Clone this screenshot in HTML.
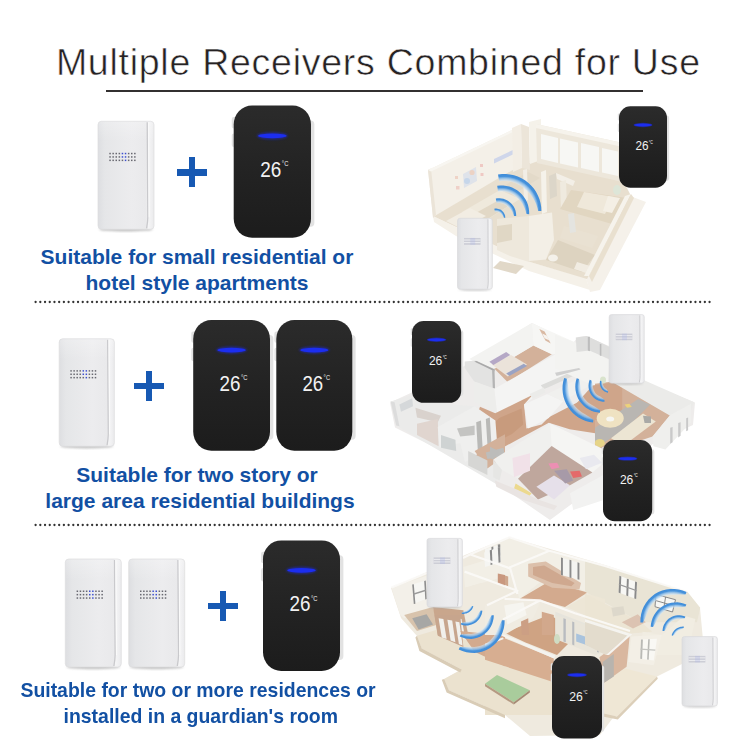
<!DOCTYPE html>
<html lang="en">
<head>
<meta charset="utf-8">
<title>Multiple Receivers Combined for Use</title>
<style>
html,body{margin:0;padding:0;background:#fff;}
body{width:750px;height:750px;position:relative;overflow:hidden;font-family:"Liberation Sans",Arial,sans-serif;}
.abs{position:absolute;}
#title{left:55.9px;top:39.5px;font-size:37.5px;line-height:44px;color:#262223;white-space:nowrap;letter-spacing:0.74px;-webkit-text-stroke:0.55px #fff;}
#uline{left:106px;top:90.4px;width:537px;height:1.6px;background:#333030;}
.dots{left:34px;width:678px;height:3px;background-image:radial-gradient(circle at 1.2px 1.5px,#3c3c3c 0.9px,rgba(60,60,60,0.35) 1.3px,rgba(60,60,60,0) 1.7px);background-size:3.95px 3px;background-repeat:repeat-x;}
.cap{color:#1250a3;font-weight:bold;font-size:21px;line-height:26px;white-space:nowrap;text-align:center;}
.plus{width:30px;height:30px;}
.plus:before,.plus:after{content:"";position:absolute;background:#1759b3;}
.plus:before{left:0;top:11.85px;width:30px;height:6.3px;}
.plus:after{left:11.85px;top:0;width:6.3px;height:30px;}
svg{position:absolute;left:0;top:0;}
</style>
</head>
<body>
<svg id="art" width="750" height="750" viewBox="0 0 750 750">
<defs>
  <linearGradient id="gWhite" x1="0" y1="0" x2="1" y2="0">
    <stop offset="0" stop-color="#dddee1"/><stop offset="0.12" stop-color="#e5e6e8"/><stop offset="0.6" stop-color="#ececee"/><stop offset="0.86" stop-color="#e9e9eb"/><stop offset="0.9" stop-color="#f5f5f6"/><stop offset="1" stop-color="#eaeaec"/>
  </linearGradient>
  <linearGradient id="gTop" x1="0" y1="0" x2="0" y2="1"><stop offset="0" stop-color="#fff" stop-opacity="0.25"/><stop offset="1" stop-color="#fff" stop-opacity="0"/></linearGradient>
  <linearGradient id="gBlack" x1="0" y1="0" x2="0" y2="1">
    <stop offset="0" stop-color="#2b2b2b"/><stop offset="0.5" stop-color="#232323"/><stop offset="1" stop-color="#1c1c1c"/>
  </linearGradient>
  <filter id="b05" x="-10%" y="-10%" width="120%" height="120%"><feGaussianBlur stdDeviation="0.45"/></filter>
  <filter id="b1" x="-20%" y="-20%" width="140%" height="140%"><feGaussianBlur stdDeviation="1"/></filter>
  <filter id="b2" x="-20%" y="-20%" width="140%" height="140%"><feGaussianBlur stdDeviation="2"/></filter>
  <filter id="glow" x="-50%" y="-200%" width="200%" height="500%"><feGaussianBlur stdDeviation="1.2"/></filter>

  <radialGradient id="ag1_0" gradientUnits="userSpaceOnUse" cx="496.1" cy="217.8" r="9.2"><stop offset="0.6522" stop-color="#d5e8f7" stop-opacity="0.55"/><stop offset="0.7913" stop-color="#86baea" stop-opacity="0.88"/><stop offset="0.8783" stop-color="#4692db" stop-opacity="1.00"/><stop offset="1.0000" stop-color="#3f8cd9" stop-opacity="1.00"/></radialGradient><radialGradient id="ag1_1" gradientUnits="userSpaceOnUse" cx="498.8" cy="215.6" r="17.4"><stop offset="0.7241" stop-color="#d5e8f7" stop-opacity="0.55"/><stop offset="0.8345" stop-color="#86baea" stop-opacity="0.88"/><stop offset="0.9034" stop-color="#4692db" stop-opacity="1.00"/><stop offset="1.0000" stop-color="#3f8cd9" stop-opacity="1.00"/></radialGradient><radialGradient id="ag1_2" gradientUnits="userSpaceOnUse" cx="501.5" cy="213.2" r="27.7"><stop offset="0.7834" stop-color="#d5e8f7" stop-opacity="0.55"/><stop offset="0.8700" stop-color="#86baea" stop-opacity="0.88"/><stop offset="0.9242" stop-color="#4692db" stop-opacity="1.00"/><stop offset="1.0000" stop-color="#3f8cd9" stop-opacity="1.00"/></radialGradient><radialGradient id="ag1_3" gradientUnits="userSpaceOnUse" cx="504.4" cy="211.0" r="37.0"><stop offset="0.8108" stop-color="#d5e8f7" stop-opacity="0.55"/><stop offset="0.8865" stop-color="#86baea" stop-opacity="0.88"/><stop offset="0.9338" stop-color="#4692db" stop-opacity="1.00"/><stop offset="1.0000" stop-color="#3f8cd9" stop-opacity="1.00"/></radialGradient>
<radialGradient id="ag2_0" gradientUnits="userSpaceOnUse" cx="609.8" cy="382.9" r="10.0"><stop offset="0.7000" stop-color="#d5e8f7" stop-opacity="0.55"/><stop offset="0.8200" stop-color="#86baea" stop-opacity="0.88"/><stop offset="0.8950" stop-color="#4692db" stop-opacity="1.00"/><stop offset="1.0000" stop-color="#3f8cd9" stop-opacity="1.00"/></radialGradient><radialGradient id="ag2_1" gradientUnits="userSpaceOnUse" cx="604.5" cy="385.8" r="16.0"><stop offset="0.7250" stop-color="#d5e8f7" stop-opacity="0.55"/><stop offset="0.8350" stop-color="#86baea" stop-opacity="0.88"/><stop offset="0.9038" stop-color="#4692db" stop-opacity="1.00"/><stop offset="1.0000" stop-color="#3f8cd9" stop-opacity="1.00"/></radialGradient><radialGradient id="ag2_2" gradientUnits="userSpaceOnUse" cx="601.3" cy="386.7" r="26.0"><stop offset="0.7923" stop-color="#d5e8f7" stop-opacity="0.55"/><stop offset="0.8754" stop-color="#86baea" stop-opacity="0.88"/><stop offset="0.9273" stop-color="#4692db" stop-opacity="1.00"/><stop offset="1.0000" stop-color="#3f8cd9" stop-opacity="1.00"/></radialGradient><radialGradient id="ag2_3" gradientUnits="userSpaceOnUse" cx="596.7" cy="388.5" r="34.2"><stop offset="0.8187" stop-color="#d5e8f7" stop-opacity="0.55"/><stop offset="0.8912" stop-color="#86baea" stop-opacity="0.88"/><stop offset="0.9365" stop-color="#4692db" stop-opacity="1.00"/><stop offset="1.0000" stop-color="#3f8cd9" stop-opacity="1.00"/></radialGradient>
<radialGradient id="ag3_0" gradientUnits="userSpaceOnUse" cx="463.0" cy="603.0" r="10.9"><stop offset="0.7615" stop-color="#d5e8f7" stop-opacity="0.55"/><stop offset="0.8569" stop-color="#86baea" stop-opacity="0.88"/><stop offset="0.9165" stop-color="#4692db" stop-opacity="1.00"/><stop offset="1.0000" stop-color="#3f8cd9" stop-opacity="1.00"/></radialGradient><radialGradient id="ag3_1" gradientUnits="userSpaceOnUse" cx="466.1" cy="609.1" r="16.4"><stop offset="0.7683" stop-color="#d5e8f7" stop-opacity="0.55"/><stop offset="0.8610" stop-color="#86baea" stop-opacity="0.88"/><stop offset="0.9189" stop-color="#4692db" stop-opacity="1.00"/><stop offset="1.0000" stop-color="#3f8cd9" stop-opacity="1.00"/></radialGradient><radialGradient id="ag3_2" gradientUnits="userSpaceOnUse" cx="470.1" cy="615.2" r="23.7"><stop offset="0.7890" stop-color="#d5e8f7" stop-opacity="0.55"/><stop offset="0.8734" stop-color="#86baea" stop-opacity="0.88"/><stop offset="0.9262" stop-color="#4692db" stop-opacity="1.00"/><stop offset="1.0000" stop-color="#3f8cd9" stop-opacity="1.00"/></radialGradient><radialGradient id="ag3_3" gradientUnits="userSpaceOnUse" cx="473.0" cy="621.3" r="31.6"><stop offset="0.8101" stop-color="#d5e8f7" stop-opacity="0.55"/><stop offset="0.8861" stop-color="#86baea" stop-opacity="0.88"/><stop offset="0.9335" stop-color="#4692db" stop-opacity="1.00"/><stop offset="1.0000" stop-color="#3f8cd9" stop-opacity="1.00"/></radialGradient>
<radialGradient id="ag4_0" gradientUnits="userSpaceOnUse" cx="683.0" cy="638.4" r="11.8"><stop offset="0.7627" stop-color="#d5e8f7" stop-opacity="0.55"/><stop offset="0.8576" stop-color="#86baea" stop-opacity="0.88"/><stop offset="0.9169" stop-color="#4692db" stop-opacity="1.00"/><stop offset="1.0000" stop-color="#3f8cd9" stop-opacity="1.00"/></radialGradient><radialGradient id="ag4_1" gradientUnits="userSpaceOnUse" cx="678.8" cy="631.5" r="16.3"><stop offset="0.7546" stop-color="#d5e8f7" stop-opacity="0.55"/><stop offset="0.8528" stop-color="#86baea" stop-opacity="0.88"/><stop offset="0.9141" stop-color="#4692db" stop-opacity="1.00"/><stop offset="1.0000" stop-color="#3f8cd9" stop-opacity="1.00"/></radialGradient><radialGradient id="ag4_2" gradientUnits="userSpaceOnUse" cx="676.1" cy="627.7" r="25.4"><stop offset="0.7953" stop-color="#d5e8f7" stop-opacity="0.55"/><stop offset="0.8772" stop-color="#86baea" stop-opacity="0.88"/><stop offset="0.9283" stop-color="#4692db" stop-opacity="1.00"/><stop offset="1.0000" stop-color="#3f8cd9" stop-opacity="1.00"/></radialGradient><radialGradient id="ag4_3" gradientUnits="userSpaceOnUse" cx="672.5" cy="620.9" r="32.1"><stop offset="0.8131" stop-color="#d5e8f7" stop-opacity="0.55"/><stop offset="0.8879" stop-color="#86baea" stop-opacity="0.88"/><stop offset="0.9346" stop-color="#4692db" stop-opacity="1.00"/><stop offset="1.0000" stop-color="#3f8cd9" stop-opacity="1.00"/></radialGradient>

  <!-- black receiver: 80 x 132 -->
  <g id="rx">
    <rect x="-2" y="11.500" width="5" height="11.500" rx="2" fill="#e2e2e2"/>
    <rect x="-2" y="28" width="5" height="13.500" rx="2" fill="#e2e2e2"/>
    <rect x="75" y="15" width="8.500" height="106" rx="4" fill="#e2e2e2" filter="url(#b05)"/>
    <rect x="0" y="0" width="80" height="132" rx="19" ry="19" fill="url(#gBlack)"/>
    <ellipse cx="40" cy="30.300" rx="16" ry="3.600" fill="#1a2cff" opacity="0.45" filter="url(#glow)"/>
    <ellipse cx="40" cy="30.300" rx="14.800" ry="2.400" fill="#1c2ef0"/>
    <text x="27.500" y="71.500" font-family="Liberation Sans, sans-serif" font-size="21.500" fill="#f2f2f2" textLength="21.800" lengthAdjust="spacingAndGlyphs">26</text>
    <text x="49.800" y="60.800" font-family="Liberation Sans, sans-serif" font-size="8" fill="#f2f2f2" textLength="6.800" lengthAdjust="spacingAndGlyphs">°C</text>
  </g>

  <!-- small scene transmitter: 36 x 69 -->
  <g id="txs">
    <ellipse cx="17.700" cy="68.600" rx="16.500" ry="1.500" fill="#aaa" opacity="0.6" filter="url(#b1)"/>
    <rect x="0" y="0" width="35.400" height="68.500" rx="2.400" ry="2.400" fill="url(#gWhite)" stroke="#dadadc" stroke-width="0.700"/>
    <path d="M30.900 0.800 L31.200 61 Q31.200 64 30.500 67.800" stroke="#cdcdd0" stroke-width="1" fill="none"/>
    <rect x="6.600" y="19" width="16.800" height="6.600" fill="#cdced6"/>
    <path d="M6.600 21 H23.400 M6.600 23.500 H23.400" stroke="#f1f1f4" stroke-width="0.900"/>
    <rect x="13" y="19" width="5" height="6.600" fill="#a9b4ea" opacity="0.280"/>
  </g>
  <!-- white transmitter: 56 x 108 -->
  <g id="tx">
    <ellipse cx="28" cy="108" rx="27" ry="2.2" fill="#b0b0b0" opacity="0.75" filter="url(#b1)"/>
    <rect x="0" y="0" width="56" height="108" rx="3.5" ry="3.5" fill="url(#gWhite)" stroke="#dcdcde" stroke-width="0.7"/>
    <rect x="0.5" y="0.5" width="55" height="20" rx="3" fill="url(#gTop)"/>
    <path d="M49.2 1 L49.8 96 Q49.8 100 48.6 107" stroke="#c9c9cc" stroke-width="1.3" fill="none"/>
    <path d="M50.6 1 L51.2 96" stroke="#fbfbfb" stroke-width="1" fill="none"/>
    <g fill="#686870"><rect x="11.3" y="31.5" width="1.5" height="1.5"/><rect x="14.4" y="31.5" width="1.5" height="1.5"/><rect x="17.5" y="31.5" width="1.5" height="1.5"/><rect x="20.6" y="31.5" width="1.5" height="1.5"/><rect x="23.7" y="31.5" width="1.5" height="1.5" fill="#3d4fd0"/><rect x="26.8" y="31.5" width="1.5" height="1.5" fill="#3d4fd0"/><rect x="29.9" y="31.5" width="1.5" height="1.5"/><rect x="33.0" y="31.5" width="1.5" height="1.5"/><rect x="36.1" y="31.5" width="1.5" height="1.5"/><rect x="11.3" y="34.9" width="1.5" height="1.5"/><rect x="14.4" y="34.9" width="1.5" height="1.5"/><rect x="17.5" y="34.9" width="1.5" height="1.5"/><rect x="20.6" y="34.9" width="1.5" height="1.5"/><rect x="23.7" y="34.9" width="1.5" height="1.5" fill="#3d4fd0"/><rect x="26.8" y="34.9" width="1.5" height="1.5" fill="#3d4fd0"/><rect x="29.9" y="34.9" width="1.5" height="1.5"/><rect x="33.0" y="34.9" width="1.5" height="1.5"/><rect x="36.1" y="34.9" width="1.5" height="1.5"/><rect x="11.3" y="38.3" width="1.5" height="1.5"/><rect x="14.4" y="38.3" width="1.5" height="1.5"/><rect x="17.5" y="38.3" width="1.5" height="1.5"/><rect x="20.6" y="38.3" width="1.5" height="1.5"/><rect x="23.7" y="38.3" width="1.5" height="1.5"/><rect x="26.8" y="38.3" width="1.5" height="1.5" fill="#3d4fd0"/><rect x="29.9" y="38.3" width="1.5" height="1.5"/><rect x="33.0" y="38.3" width="1.5" height="1.5"/><rect x="36.1" y="38.3" width="1.5" height="1.5"/></g>
  </g>
</defs>

<!-- house 1: faded isometric apartment -->
<g id="house1" filter="url(#b05)">
  <!-- outer slab faces -->
  <polygon points="433,216 458,228 530,262 586,278 590,290 529,271 456,236 434,222" fill="#f5f1e9"/>
  <polygon points="630,196 646,202 600,290 590,292 586,278" fill="#f5f1ea"/>
  <!-- floor -->
  <polygon points="433,216 516,167 540,160 623,180 631,196 587,279 530,262" fill="#e8dfcf"/>
  <!-- left wall inner face -->
  <polygon points="428,170 512,130 516,168 433,217" fill="#f4f0e8"/>
  <polygon points="428,170 431,168.500 436,215 433,218" fill="#ebe4d8"/>
  <polygon points="428,170 512,130 514,131.500 431,171.500" fill="#f8f6f1"/>
  <!-- pictures on left wall -->
  <polygon points="463,174 476,167 477,181 464,188" fill="#dfe3ea"/>
  <circle cx="467" cy="181" r="3" fill="#c6d6ea"/><circle cx="472" cy="172.500" r="2.600" fill="#ecd2c4"/>
  <rect x="455" y="176" width="3" height="3" fill="#efd3c6"/><rect x="456" y="186" width="3.500" height="3.500" fill="#efd0c8"/><rect x="480" y="164" width="3" height="3" fill="#efc9c4"/><rect x="480.500" y="173" width="3" height="3" fill="#efc9c4"/>
  <polygon points="494,159 516,148.500 516,153 494,163.500" fill="#cfd6ea"/>
  <!-- corner columns -->
  <polygon points="512,128 521,124 522,168 513,172" fill="#f3eee5"/>
  <polygon points="521,124 529,127 530,170 522,168" fill="#ece5d9"/>
  <polygon points="529,122 541,119 541,160 530,164" fill="#f5f2ea"/>
  <!-- window wall -->
  <polygon points="536,124 623,143 623,182 537,163" fill="#ede7db"/>
  <polygon points="536,124 623,143 623,147 536,128" fill="#f6f3ec"/>
  <polygon points="541,134 558,138 558,163 541,159" fill="#f7f7f4"/>
  <polygon points="560,138.500 578,142.500 578,167.500 560,163.500" fill="#f7f7f4"/>
  <polygon points="581,143 599,147 599,172 581,168" fill="#f7f7f4"/>
  <polygon points="602,148 618,151.500 618,176 602,172.500" fill="#f7f7f4"/>
  <!-- living area furniture near wall -->
  <polygon points="462,212 500,190 520,199 482,223" fill="#efe9dc"/>
  <polygon points="474,214 499,200 510,205 486,220" fill="#e2d8c6"/>
  <polygon points="446,221 470,208 486,216 462,229" fill="#f2ede3"/>
  <polygon points="500,188 528,172 540,178 512,195" fill="#e3dac9"/>
  <!-- partition walls around kitchen -->
  <polygon points="523,170 527,169 528,200 524,202" fill="#f2eee6"/>
  <polygon points="541,172 546,170 547,212 542,214" fill="#f5f2ea"/>
  <polygon points="549,176 556,173 557,196 550,199" fill="#dcd6c9"/>
  <polygon points="556,173 575,181 573,186 557,179" fill="#f3efe7"/>
  <polygon points="560,182 566,180 567,207 561,209" fill="#efeadf"/>
  <!-- bedroom floor -->
  <polygon points="571,190 627,198 612,224 560,209" fill="#e1d6c1"/>
  <polygon points="584,192 614,197 605,214 577,207" fill="#efe8da"/>
  <polygon points="608,196 620,198 612,213 603,211" fill="#f4efe5"/>
  <!-- center partition big light wall -->
  <polygon points="529,216 552,212.500 554,240 546,259.500 529,261" fill="#f3efe6"/>
  <polygon points="497,219 529,216 529,262 510,256 497,250" fill="#eee8dc"/>
  <polygon points="497,226 512,224 512,240 497,243" fill="#e0d7c5"/>
  <!-- doormat -->
  <polygon points="500,261 524,266 516,274 493,268" fill="#e1d8c8"/>
  <!-- bathroom / study bottom right -->
  <polygon points="558,240 595,255 582,272 546,260" fill="#ddd3c0"/>
  <polygon points="564,226 598,236 592,248 560,238" fill="#e9e1d2"/>
  <polygon points="568,214 574,213 576,232 570,233" fill="#e4e4e0"/>
  <ellipse cx="553" cy="258" rx="5" ry="3.500" fill="#f4f1ea"/>
  <polygon points="577,262 590,266 586,273 574,269" fill="#f1ece2"/>
  <!-- right low wall -->
  <polygon points="625,196 631,194 589,276 584,276" fill="#f6f3ec"/>
  <polygon points="631,194 634,198 592,282 589,276" fill="#e9e0cf"/>
  <!-- plant -->
  <ellipse cx="617" cy="190" rx="4" ry="5" fill="#dde6d8"/>
</g>

<!-- house 2 -->
<g id="house2" filter="url(#b05)">
<polygon points="390.0,402.5 450.0,375.0 532.0,323.0 573.0,343.0 578.0,337.0 586.0,336.0 609.0,346.0 645.0,382.5 695.0,402.5 693.0,425.0 655.0,442.5 550.0,520.0 470.0,465.0 395.0,427.5" fill="#eeeceb"/>
<polygon points="390.6,401.4 412.2,395.0 452.2,404.6 474.6,406.2 497.0,423.8 497.0,443.0 497.0,484.6 396.2,425.4" fill="#ebebea"/>
<polygon points="533.4,345.4 551.8,354.2 507.8,382.2 494.2,368.6" fill="#d3b19a"/>
<polygon points="469.4,359.0 531.8,323.0 533.4,345.4 495.0,368.6 474.2,361.4" fill="#f3f3f1"/>
<polygon points="531.8,323.0 575.0,342.2 575.0,355.0 551.8,354.2 533.4,345.4" fill="#f6f6f4"/>
<polygon points="539.3,329.1 544.6,331.5 550.7,343.5 545.4,340.6" fill="#d9b9a3"/>
<polygon points="542.2,333.4 547.0,335.8 549.4,340.6 544.6,338.2" fill="#f6f3ef"/>
<polygon points="491.8,364.6 511.0,355.0 527.0,364.6 507.8,376.6" fill="#ebe3da"/>
<polygon points="506.2,373.4 523.8,363.8 527.0,365.9 509.4,376.1" fill="#9aa3c4"/>
<polygon points="489.4,361.7 506.2,352.1 510.2,355.0 493.4,364.9" fill="#b5a8c6"/>
<polygon points="464.6,361.4 475.8,360.6 494.2,369.4 494.2,388.6 474.2,381.4 464.6,367.8" fill="#e3e3e2"/>
<polygon points="474.2,361.4 476.6,361.1 495.0,369.4 494.2,371.3" fill="#a9a9a9"/>
<polygon points="492.1,370.2 494.5,369.4 495.0,388.6 492.8,387.8" fill="#b4b4b4"/>
<polygon points="494.2,388.9 554.2,355.0 575.0,344.6 575.0,367.8 523.8,404.6 496.9,412.9" fill="#f4f4f3"/>
<polygon points="474.2,381.4 494.2,388.9 496.9,412.9 474.2,402.2" fill="#ededeb"/>
<polygon points="495.2,413.2 532.8,394.8 524.0,404.4 526.4,428.4 541.6,424.4 548.8,417.2 600.0,390.8 600.0,434.0 569.6,429.2 548.8,422.8 516.0,440.4 492.8,453.2 480.0,457.2 470.4,459.6 470.4,434.0 480.0,406.8" fill="#cfa58a"/>
<polygon points="499.2,418.0 521.6,408.4 523.2,424.4 512.0,434.0 489.6,445.2 483.2,434.0" fill="#c89b7d"/>
<polygon points="524.0,404.4 547.2,394.0 563.2,401.2 548.8,418.0 528.0,428.4" fill="#f4f4f3"/>
<polygon points="547.2,394.0 600.0,368.4 600.0,379.6 563.2,401.2" fill="#f0f0ee"/>
<polygon points="540.8,385.2 576.0,370.0 579.2,373.2 544.0,389.2" fill="#dcdcda"/>
<polygon points="529.6,394.0 544.0,387.6 545.6,392.4 532.8,398.8" fill="#ebebe9"/>
<polygon points="555.0,334.4 579.0,344.0 609.4,360.0 607.8,384.0 593.4,385.6 564.6,372.8 555.0,368.0" fill="#f3f3f1"/>
<polygon points="575.8,337.6 587.0,336.0 610.2,347.2 609.4,359.2 589.4,350.4 576.6,352.0" fill="#dededd"/>
<polygon points="587.8,336.8 589.9,336.8 589.9,351.2 587.8,350.4" fill="#bdbdbd"/>
<polygon points="599.8,344.0 601.4,344.0 601.4,356.0 599.8,355.5" fill="#bdbdbd"/>
<polygon points="555.0,372.8 579.0,368.0 580.6,369.6 556.6,376.0" fill="#cfcfcf"/>
<polygon points="595.0,383.8 612.6,381.4 670.2,415.0 652.6,436.6 611.0,450.2 595.0,450.2" fill="#d3b19a"/>
<polygon points="592.6,385.6 607.8,383.2 622.2,384.0 622.2,420.0 579.0,420.0 571.0,409.6" fill="#cfa58a"/>
<polygon points="595.0,427.8 638.2,399.0 650.2,404.6 627.0,427.8 604.6,442.2 595.0,442.2" fill="#b9b6b2"/>
<polygon points="624.6,404.6 629.4,403.8 631.8,407.0 627.0,407.8" fill="#ecd27a"/>
<ellipse cx="610.2" cy="418.2" rx="13.5" ry="9.5" fill="#efe2c2"/>
<ellipse cx="610.2" cy="419.0" rx="4" ry="2.5" fill="#f6f6f2"/>
<polygon points="611.0,438.2 643.0,413.4 655.8,421.4 623.8,445.4" fill="#ece5d3"/>
<polygon points="643.0,415.8 651.0,416.6 651.0,423.0 644.6,423.0" fill="#a9a9a6"/>
<ellipse cx="599.8" cy="443.0" rx="5" ry="4" fill="#e6d488"/>
<polygon points="643.0,379.8 694.2,402.2 691.0,409.4 670.2,415.8 612.6,382.2" fill="#ebebe9"/>
<polygon points="652.6,436.6 670.2,415.0 691.0,403.8 691.0,422.2 665.4,449.4 653.4,446.2" fill="#efefed"/>
<polygon points="670.2,427.8 672.6,427.0 672.6,442.2 670.2,443.8" fill="#c9c9c9"/>
<polygon points="678.2,423.0 680.6,422.2 680.6,435.8 678.2,437.4" fill="#c9c9c9"/>
<polygon points="686.2,418.2 688.1,417.4 688.1,430.2 686.2,431.3" fill="#c9c9c9"/>
<ellipse cx="603.0" cy="380.0" rx="3" ry="3.5" fill="#d9e3cc"/>
<polygon points="390.6,401.4 394.6,402.2 399.4,426.2 396.2,425.4" fill="#dcdcdc"/>
<polygon points="399.4,404.6 412.2,398.2 413.0,406.2 401.0,411.8" fill="#d5d8da"/>
<polygon points="415.4,407.8 441.0,415.8 437.8,422.2 417.0,417.4" fill="#d9d2cd"/>
<polygon points="417.0,423.8 437.8,419.0 438.6,446.2 417.0,435.0" fill="#e0d5cf"/>
<polygon points="437.8,427.0 460.2,414.2 474.6,406.2 495.4,420.6 497.0,441.4 465.0,462.2 460.2,443.0 439.4,447.8" fill="#efefee"/>
<polygon points="457.0,428.6 474.6,425.4 474.6,435.0 460.2,436.6" fill="#c4c4c2"/>
<polygon points="476.2,422.2 481.0,420.6 482.6,447.8 477.8,450.2" fill="#b9b9b7"/>
<polygon points="485.8,419.0 489.8,417.4 491.4,443.0 487.4,444.6" fill="#b9b9b7"/>
<polygon points="441.0,435.0 455.4,439.8 456.2,451.0 441.0,447.8" fill="#cfd3d3"/>
<polygon points="474.6,451.0 505.0,434.2 505.0,455.8 487.4,468.6" fill="#d3b19a"/>
<polygon points="468.2,451.0 487.4,460.6 487.4,475.0 468.2,465.4" fill="#d6d6d4"/>
<polygon points="485.8,452.6 503.4,447.8 505.0,455.8 487.4,459.0" fill="#bdbdbb"/>
<polygon points="493.2,459.6 550.0,423.6 551.6,446.0 518.0,478.8 502.0,470.0" fill="#f0f0ee"/>
<polygon points="550.0,423.6 605.2,450.0 602.0,464.4 592.4,472.4 551.6,446.0" fill="#f5f5f3"/>
<polygon points="551.6,446.0 592.4,472.4 570.0,485.2 538.0,499.6 518.0,478.8" fill="#bfa79d"/>
<polygon points="512.4,458.0 530.0,453.2 530.0,470.8 514.0,477.2" fill="#f1e1e8"/>
<polygon points="536.4,486.8 554.0,475.6 570.0,485.2 554.0,499.6" fill="#e6e0ea"/>
<polygon points="548.4,463.6 557.2,462.8 559.6,467.6 551.6,469.2" fill="#ec8fb3"/>
<polygon points="570.0,471.6 579.6,470.8 582.0,476.4 573.2,478.0" fill="#e46a6a"/>
<polygon points="554.0,470.8 566.8,469.2 573.2,480.4 565.2,483.6" fill="#a79aa8"/>
<polygon points="579.6,458.0 594.0,454.8 602.0,462.8 586.0,469.2" fill="#e9e9ef"/>
<polygon points="515.6,483.6 531.6,493.2 528.4,497.2 514.0,488.4" fill="#ecd98e"/>
<polygon points="493.2,459.6 502.0,470.0 499.6,480.4 493.2,477.2" fill="#e6e6e4"/>
<polygon points="494.8,480.4 518.0,490.0 538.0,499.6 557.2,506.0 554.0,510.0 522.0,499.6 496.4,486.8" fill="#e9e4e2"/>
<polygon points="570.0,493.2 605.2,474.0 605.2,499.6 573.2,510.0" fill="#f2f2f1"/>
<polygon points="490.0,446.8 499.6,451.6 493.2,459.6 490.0,458.0" fill="#bcbcba"/>
</g>

<!-- house 3 -->
<g id="house3" filter="url(#b05)">
<polygon points="391,588 465,555 509,537 605,565 687,592 700,608 703,640 690,660 650,680 634,690 600,735 530,736 505,715 449,690 444,679 462,669 422,649 417,636 401,618" fill="#efeadf"/>
<polygon points="417.0,635.8 437.8,629.4 505.0,655.0 505.0,715.0 449.0,690.2 444.2,679.0 461.8,669.4 421.8,648.6" fill="#ebe2cf"/>
<polygon points="485.0,655.0 553.8,682.2 553.8,715.0 485.0,715.0" fill="#ebe2cf"/>
<polygon points="417.0,635.8 421.8,648.6 461.8,669.4 460.2,672.6 419.4,651.0 415.4,637.4" fill="#d9ccb6"/>
<polygon points="444.2,679.0 449.0,690.2 505.0,715.0 505.0,718.2 446.6,692.6 441.8,679.8" fill="#d9ccb6"/>
<polygon points="602.6,682.8 625.0,668.4 657.0,676.4 617.0,716.4 602.6,713.2" fill="#efe7d5"/>
<polygon points="602.6,713.2 617.0,716.4 657.0,676.4 657.8,678.8 617.8,719.6 602.6,716.4" fill="#dccfb9"/>
<polygon points="485.0,683.8 497.0,675.0 529.8,690.2 513.8,702.2" fill="#a9cc9c"/>
<polygon points="485.0,683.8 513.8,702.2 513.8,704.6 485.0,686.2" fill="#b59a82"/>
<polygon points="513.8,702.2 529.8,690.2 529.8,692.6 513.8,704.6" fill="#a58a74"/>
<polygon points="391.4,587.8 426.6,575.8 433.0,607.0 404.2,618.2 400.2,615.0" fill="#f3f0e9"/>
<polygon points="412.2,584.6 425.8,580.6 425.8,599.0 413.8,603.8" fill="#f6f6f3"/>
<polygon points="412.2,584.6 413.8,584.3 415.4,603.8 413.8,604.1" fill="#8e8e8e"/>
<polygon points="424.2,581.1 425.8,580.6 426.9,599.0 425.3,599.5" fill="#8e8e8e"/>
<polygon points="413.0,593.4 425.8,589.4 426.0,591.0 413.2,595.0" fill="#9a9a9a"/>
<polygon points="404.2,615.0 433.0,607.0 437.8,624.6 417.0,631.0" fill="#d8c3ac"/>
<polygon points="412.2,618.2 426.6,614.2 433.0,624.6 418.6,629.4" fill="#a7a7a5"/>
<polygon points="433.0,607.0 463.4,610.2 468.2,635.0 437.8,635.0" fill="#c9a68c"/>
<polygon points="437.8,615.0 442.6,615.8 445.8,635.0 441.0,635.0" fill="#f1f0ec"/>
<polygon points="447.4,616.6 452.2,617.4 455.4,635.0 450.6,635.0" fill="#f1f0ec"/>
<polygon points="457.0,618.2 461.5,619.0 464.7,635.0 460.2,635.0" fill="#f1f0ec"/>
<polygon points="434.6,615.0 460.2,615.0 463.4,647.0 437.8,635.8" fill="#c7a58d"/>
<polygon points="438.6,618.2 443.4,619.0 446.6,639.0 441.8,637.4" fill="#f1f0ec"/>
<polygon points="447.4,619.8 452.2,620.6 455.4,642.2 450.6,640.6" fill="#f1f0ec"/>
<polygon points="455.4,621.4 459.4,622.2 462.6,645.4 458.9,644.1" fill="#f1f0ec"/>
<polygon points="509.0,537.4 549.0,550.2 510.6,567.0 509.0,586.2 485.0,578.2 485.0,547.8" fill="#f2efe6"/>
<polygon points="485.0,549.4 499.4,544.6 500.2,563.0 485.0,566.2" fill="#f5f5f2"/>
<polygon points="491.4,547.0 493.3,546.5 493.8,564.6 492.0,565.1" fill="#8a8a8a"/>
<polygon points="497.8,544.6 500.2,544.3 500.7,563.2 498.8,563.8" fill="#8a8a8a"/>
<polygon points="498.6,573.4 508.2,576.6 508.2,586.2 498.6,583.0" fill="#cfa78d"/>
<polygon points="463.4,567.0 505.0,554.2 505.0,591.0 481.0,583.0 465.0,587.8" fill="#f2efe6"/>
<polygon points="484.2,552.6 500.2,547.0 501.0,562.2 485.0,567.0" fill="#f5f5f2"/>
<polygon points="489.8,550.2 491.9,549.7 492.5,564.6 490.6,565.1" fill="#8a8a8a"/>
<polygon points="497.8,547.5 499.9,547.0 500.5,562.2 498.6,562.7" fill="#8a8a8a"/>
<polygon points="465.0,587.8 505.0,576.6 505.0,624.6 487.4,631.0 465.0,610.2" fill="#efeadf"/>
<polygon points="497.8,573.4 505.0,575.0 505.0,586.2 497.8,583.0" fill="#c9987f"/>
<polygon points="549.0,550.2 605.0,567.0 605.0,595.8 587.4,592.6 549.0,575.0 519.4,599.0 510.6,567.0" fill="#f2efe6"/>
<polygon points="519.4,599.0 549.0,581.4 587.4,592.6 565.0,607.0 541.0,600.6 526.6,605.4" fill="#d3aa8e"/>
<polygon points="528.2,563.8 545.8,561.4 581.0,583.0 579.4,589.4 552.2,587.8 528.2,576.6" fill="#dcc0ab"/>
<polygon points="533.0,567.0 544.2,565.4 574.6,583.0 571.4,586.2 552.2,583.0 533.0,575.0" fill="#cfa88f"/>
<polygon points="561.0,557.4 579.4,563.0 579.4,579.8 561.0,575.0" fill="#f4f4f1"/>
<polygon points="561.0,557.4 562.9,557.9 562.9,575.5 561.0,575.0" fill="#8c8c8c"/>
<polygon points="569.5,559.8 571.4,560.3 571.4,577.9 569.5,577.4" fill="#8c8c8c"/>
<polygon points="577.5,562.2 579.4,563.0 579.4,579.8 577.5,579.3" fill="#8c8c8c"/>
<polygon points="585.0,560.6 687.4,591.8 700.2,607.8 697.0,622.2 641.0,622.2 585.0,591.8" fill="#e9e4d5"/>
<polygon points="566.6,607.0 589.0,594.2 605.0,599.0 605.0,618.2 584.2,615.0" fill="#ede6d6"/>
<polygon points="585.0,593.4 641.0,622.2 652.2,631.8 629.8,633.4 585.0,619.0" fill="#ece5d4"/>
<polygon points="619.4,575.8 637.0,582.2 636.2,599.0 618.6,592.6" fill="#f7f7f4"/>
<polygon points="619.4,575.8 621.3,576.4 620.5,593.4 618.6,592.6" fill="#8a8a8a"/>
<polygon points="626.9,578.7 628.8,579.3 628.2,596.3 626.3,595.6" fill="#8a8a8a"/>
<polygon points="635.1,581.6 637.0,582.2 636.2,599.0 634.3,598.4" fill="#8a8a8a"/>
<polygon points="618.9,583.8 636.5,589.9 636.5,591.2 618.9,585.1" fill="#9a9a9a"/>
<polygon points="656,594.5 675.5,599.7 672.5,612 655,606.7" fill="#f7f7f4"/>
<path d="M656,594.5 L675.5,599.7 L672.5,612 L655,606.7 Z M665.6,597 L663.6,609.3 M655.5,600.5 L674,605.8" stroke="#8a8a8a" stroke-width="1" fill="none"/>
<polygon points="621.8,622.2 637.8,614.2 645.8,622.2 633.0,628.6" fill="#dcc3b2"/>
<polygon points="611.4,607.8 623.4,606.2 625.0,614.2 613.0,616.6" fill="#ddd8cb"/>
<polygon points="642.6,631.8 661.8,635.0 684.2,615.8 695.4,619.0 687.4,655.0 641.0,655.0" fill="#f1ede2"/>
<polygon points="631.4,636.4 661.8,634.8 653.8,665.2 628.2,662.0" fill="#f3efe6"/>
<polygon points="641.0,639.6 657.0,638.8 653.8,660.4 640.2,658.8" fill="#f9f8f4"/>
<polygon points="641.0,639.6 642.9,639.6 642.1,659.1 640.2,658.8" fill="#b9b9b5"/>
<polygon points="648.2,639.3 649.8,639.3 648.7,659.8 647.1,659.6" fill="#b9b9b5"/>
<polygon points="640.5,648.4 655.4,649.5 655.2,650.8 640.4,649.7" fill="#c4c4c0"/>
<polygon points="460.2,631.0 505.0,635.8 505.0,666.2 474.6,651.8" fill="#d3aa8e"/>
<polygon points="504.2,632.6 549.0,615.0 581.0,631.0 557.0,655.0 525.0,642.2" fill="#cfa383"/>
<polygon points="485.0,605.4 505.8,599.0 541.0,600.6 533.0,618.2 504.2,635.0 485.0,635.0" fill="#f0ece2"/>
<polygon points="504.2,605.4 523.4,602.2 526.6,615.0 507.4,624.6" fill="#f6f5f0"/>
<polygon points="541.8,611.8 553.8,615.0 553.8,635.0 541.8,635.0" fill="#d2a88c"/>
<polygon points="521.0,621.4 528.2,618.2 529.0,635.0 521.8,635.0" fill="#cc9f84"/>
<polygon points="555.4,611.8 605.0,631.0 605.0,635.0 555.4,635.0" fill="#e6e4dc"/>
<polygon points="555.4,615.0 605.0,631.0 605.0,651.8 595.4,655.0 555.4,639.0" fill="#e9e5da"/>
<polygon points="563.4,618.2 565.8,619.0 565.8,642.2 563.4,641.4" fill="#b9bcc0"/>
<polygon points="572.2,621.4 574.3,622.2 574.3,645.4 572.2,644.6" fill="#b9bcc0"/>
<polygon points="597.0,630.2 598.9,631.0 598.9,652.6 597.0,652.1" fill="#b9bcc0"/>
<polygon points="576.2,633.4 592.2,639.0 592.2,647.0 576.2,641.4" fill="#a9c3dd"/>
<polygon points="485.0,643.8 502.6,637.4 553.8,658.2 553.8,682.2 485.0,659.8" fill="#d7ae91"/>
<polygon points="501.0,635.5 504.2,634.5 555.4,655.8 553.8,658.5" fill="#f4f3ef"/>
<polygon points="485.0,643.8 502.6,637.4 503.9,639.0 485.0,646.2" fill="#f4f3ef"/>
<polygon points="599.4,657.2 629.8,634.8 626.6,666.8 604.2,682.8" fill="#d9b79f"/>
<polygon points="585.0,619.0 629.8,633.4 605.8,655.0 585.0,644.6" fill="#e3dccd"/>
<polygon points="585.0,619.0 629.8,633.4 627.9,635.8 585.0,621.9" fill="#f5f4f0"/>
<polygon points="629.8,633.4 632.2,634.2 609.0,655.0 605.8,655.0" fill="#f5f4f0"/>
<polygon points="602.6,662.0 613.8,654.0 613.8,676.4 604.2,682.8" fill="#b8b4ae"/>
<path d="M463,558 L471,554 L509.4,537.2 L549.4,550.8 L605,566 L687,592 M549.4,550.8 L509.4,567.6 M471,554.8 L510.2,568.4 L517.4,594 M464.600,571.600 L517.400,590.800 L487,605.200 M504.600,598.800 L539.800,600.400 L575,613.200 L630,631 M539.800,600.400 L503,619.600 M391.500,587.500 L427,573" stroke="#fbfaf7" stroke-width="2.200" fill="none" stroke-linejoin="round" opacity="0.900"/>
<ellipse cx="557.0" cy="639.0" rx="3" ry="5" fill="#cfdcc3"/>
</g>

<!-- scene devices + signal arcs -->
<g filter="url(#b05)"><path d="M494.3 208.8 L495.3 208.6 L496.4 208.6 L497.4 208.7 L498.4 208.9 L499.3 209.2 L500.3 209.6 L501.1 210.1 L502.0 210.7 L502.7 211.4 L503.4 212.2 L503.9 213.0 L504.4 213.9 L504.8 214.8 L505.1 215.8 L505.2 216.8 L505.3 217.8 L503.9 217.8 L503.5 217.0 L503.1 216.2 L502.6 215.6 L502.1 215.0 L501.6 214.4 L501.0 214.0 L500.4 213.6 L499.9 213.2 L499.4 212.8 L498.8 212.4 L498.2 212.2 L497.6 212.0 L496.9 211.9 L496.3 211.8 L495.6 211.8 L495.0 211.9Z" fill="url(#ag1_0)"/><path d="M495.8 198.5 L497.7 198.2 L499.6 198.2 L501.5 198.4 L503.4 198.8 L505.2 199.4 L506.9 200.2 L508.6 201.2 L510.1 202.4 L511.5 203.7 L512.7 205.2 L513.8 206.8 L514.7 208.5 L515.4 210.2 L515.8 212.1 L516.1 214.0 L516.2 215.9 L514.0 215.9 L513.4 214.2 L512.8 212.7 L512.1 211.3 L511.2 210.0 L510.2 208.9 L509.2 207.8 L508.0 206.9 L507.0 206.0 L505.9 205.2 L504.7 204.5 L503.4 203.9 L502.1 203.4 L500.8 203.2 L499.4 203.0 L498.0 203.0 L496.6 203.2Z" fill="url(#ag1_1)"/><path d="M497.2 185.8 L500.2 185.5 L503.3 185.6 L506.3 185.9 L509.3 186.6 L512.1 187.6 L514.9 188.9 L517.5 190.6 L519.9 192.5 L522.0 194.6 L523.9 197.0 L525.6 199.5 L527.0 202.3 L528.0 205.1 L528.7 208.1 L529.1 211.1 L529.2 214.2 L526.5 214.1 L525.8 211.4 L524.9 208.8 L523.8 206.4 L522.6 204.1 L521.1 202.1 L519.4 200.2 L517.6 198.6 L515.9 196.9 L514.0 195.5 L512.0 194.2 L509.8 193.2 L507.6 192.4 L505.2 191.8 L502.9 191.5 L500.5 191.5 L498.1 191.8Z" fill="url(#ag1_2)"/><path d="M498.0 174.6 L502.0 174.1 L506.0 174.0 L510.0 174.4 L514.0 175.3 L517.8 176.5 L521.5 178.2 L525.0 180.2 L528.2 182.7 L531.1 185.4 L533.8 188.5 L536.0 191.8 L537.9 195.4 L539.4 199.1 L540.5 203.0 L541.2 207.0 L541.4 211.0 L538.2 211.0 L537.3 207.4 L536.1 204.0 L534.6 200.7 L532.9 197.7 L530.9 194.9 L528.6 192.4 L526.1 190.2 L523.7 188.0 L521.1 186.1 L518.3 184.4 L515.3 183.0 L512.2 182.0 L509.0 181.3 L505.7 181.0 L502.4 181.1 L499.2 181.5Z" fill="url(#ag1_3)"/></g>
<g filter="url(#b05)"><path d="M607.9 392.7 L606.9 392.5 L606.0 392.1 L605.1 391.7 L604.2 391.2 L603.4 390.6 L602.7 389.9 L602.0 389.2 L601.4 388.3 L600.9 387.5 L600.5 386.6 L600.2 385.6 L600.0 384.6 L599.8 383.6 L599.8 382.6 L599.9 381.6 L600.1 380.7 L601.4 381.0 L602.0 381.9 L602.4 382.7 L602.8 383.4 L602.9 384.1 L603.1 384.8 L603.3 385.5 L603.6 386.1 L603.9 386.7 L604.3 387.3 L604.8 387.8 L605.3 388.3 L605.9 388.7 L606.5 389.1 L607.0 389.7 L607.5 390.4 L608.1 391.4Z" fill="url(#ag2_0)"/><path d="M604.5 401.8 L602.6 401.7 L600.6 401.3 L598.8 400.7 L597.0 399.9 L595.3 398.9 L593.8 397.7 L592.4 396.3 L591.2 394.7 L590.2 393.1 L589.5 391.3 L588.9 389.4 L588.6 387.5 L588.5 385.5 L588.7 383.6 L589.0 381.7 L589.7 379.8 L591.5 380.5 L592.1 382.5 L592.5 384.1 L592.9 385.6 L593.0 387.0 L593.2 388.4 L593.6 389.8 L594.2 391.1 L594.9 392.3 L595.7 393.4 L596.7 394.4 L597.8 395.3 L599.1 396.0 L600.3 396.6 L601.6 397.6 L602.9 398.6 L604.5 399.8Z" fill="url(#ag2_1)"/><path d="M599.9 412.7 L597.0 412.3 L594.0 411.7 L591.2 410.7 L588.5 409.3 L586.0 407.7 L583.7 405.8 L581.6 403.6 L579.7 401.2 L578.2 398.7 L577.0 395.9 L576.1 393.0 L575.5 390.1 L575.3 387.1 L575.4 384.1 L575.9 381.1 L576.7 378.2 L579.0 379.0 L579.7 382.0 L580.1 384.6 L580.7 387.0 L580.9 389.4 L581.3 391.7 L582.0 394.0 L583.0 396.2 L584.2 398.2 L585.7 400.1 L587.3 401.8 L589.2 403.3 L591.2 404.6 L593.3 405.7 L595.3 407.1 L597.6 408.5 L600.1 410.2Z" fill="url(#ag2_2)"/><path d="M593.1 422.5 L589.4 421.9 L585.7 420.9 L582.2 419.5 L578.8 417.7 L575.7 415.5 L572.8 413.0 L570.3 410.2 L568.0 407.1 L566.1 403.8 L564.6 400.3 L563.5 396.7 L562.8 393.0 L562.5 389.2 L562.6 385.4 L563.2 381.6 L564.2 377.9 L566.8 378.8 L567.5 382.5 L568.1 385.9 L568.7 389.0 L568.9 392.2 L569.5 395.2 L570.4 398.2 L571.7 401.0 L573.2 403.7 L575.1 406.3 L577.2 408.6 L579.5 410.6 L582.1 412.4 L584.8 413.9 L587.5 415.7 L590.3 417.6 L593.4 419.7Z" fill="url(#ag2_3)"/></g>
<g filter="url(#b05)"><path d="M473.4 606.4 L473.0 607.2 L472.6 608.1 L472.2 608.9 L471.6 609.7 L471.0 610.4 L470.3 611.1 L469.6 611.7 L468.9 612.2 L468.0 612.7 L467.2 613.1 L466.3 613.4 L465.4 613.6 L464.5 613.8 L463.5 613.9 L462.6 613.9 L461.7 613.8 L461.8 612.7 L462.7 612.0 L463.4 611.6 L464.1 611.2 L464.8 611.1 L465.5 610.9 L466.2 610.7 L466.8 610.4 L467.5 610.0 L468.0 609.6 L468.6 609.1 L469.1 608.6 L469.6 608.1 L470.0 607.5 L470.6 607.0 L471.3 606.5 L472.3 606.0Z" fill="url(#ag3_0)"/><path d="M482.4 610.8 L482.1 612.6 L481.6 614.4 L480.9 616.1 L480.0 617.7 L479.0 619.2 L477.8 620.6 L476.4 621.9 L474.9 622.9 L473.3 623.8 L471.6 624.5 L469.8 625.1 L468.0 625.4 L466.2 625.5 L464.4 625.4 L462.5 625.1 L460.8 624.6 L461.3 623.0 L463.1 622.5 L464.7 622.1 L466.2 621.7 L467.6 621.6 L469.0 621.4 L470.3 621.0 L471.6 620.4 L472.9 619.7 L474.0 618.9 L475.1 618.0 L476.0 616.9 L476.8 615.7 L477.5 614.5 L478.5 613.3 L479.5 612.0 L480.7 610.6Z" fill="url(#ag3_1)"/><path d="M493.8 615.2 L493.6 618.2 L493.0 621.1 L492.1 624.0 L490.8 626.7 L489.2 629.2 L487.3 631.5 L485.1 633.6 L482.7 635.3 L480.0 636.7 L477.2 637.8 L474.3 638.5 L471.3 638.9 L468.3 638.8 L465.4 638.4 L462.5 637.6 L459.7 636.5 L460.7 634.5 L463.6 634.3 L466.2 634.1 L468.7 633.8 L471.1 633.9 L473.4 633.6 L475.7 633.0 L477.9 632.2 L480.0 631.1 L481.9 629.7 L483.7 628.1 L485.2 626.3 L486.5 624.3 L487.5 622.1 L488.8 620.0 L490.1 617.7 L491.6 615.2Z" fill="url(#ag3_2)"/><path d="M504.6 620.2 L504.5 624.3 L503.8 628.3 L502.6 632.3 L501.0 636.0 L498.8 639.5 L496.3 642.7 L493.3 645.5 L490.0 648.0 L486.4 649.9 L482.6 651.4 L478.6 652.4 L474.5 652.9 L470.4 652.8 L466.4 652.2 L462.4 651.1 L458.7 649.5 L459.9 647.1 L463.9 647.0 L467.5 647.1 L470.9 646.8 L474.2 646.9 L477.5 646.5 L480.8 645.7 L483.8 644.5 L486.8 642.9 L489.4 640.9 L491.8 638.6 L493.9 636.1 L495.7 633.2 L497.0 630.2 L498.7 627.2 L500.2 623.9 L501.9 620.3Z" fill="url(#ag3_3)"/></g>
<g filter="url(#b05)"><path d="M671.6 635.3 L671.9 634.4 L672.3 633.4 L672.8 632.5 L673.3 631.7 L673.9 630.9 L674.6 630.1 L675.3 629.4 L676.1 628.8 L677.0 628.2 L677.9 627.8 L678.8 627.4 L679.8 627.0 L680.8 626.8 L681.8 626.7 L682.8 626.6 L683.8 626.6 L683.7 627.9 L682.8 628.6 L682.0 629.1 L681.3 629.6 L680.6 629.7 L679.8 630.0 L679.1 630.3 L678.4 630.7 L677.8 631.1 L677.2 631.5 L676.6 632.1 L676.1 632.7 L675.6 633.3 L675.2 633.9 L674.5 634.5 L673.8 635.1 L672.8 635.7Z" fill="url(#ag4_0)"/><path d="M662.5 630.9 L662.7 629.0 L663.1 627.0 L663.8 625.1 L664.7 623.4 L665.8 621.7 L667.1 620.2 L668.5 618.8 L670.2 617.7 L671.9 616.7 L673.8 616.0 L675.7 615.5 L677.7 615.2 L679.7 615.2 L681.6 615.4 L683.6 615.9 L685.4 616.6 L684.7 618.3 L682.7 618.6 L681.0 618.9 L679.4 619.2 L677.9 619.2 L676.5 619.4 L675.0 619.8 L673.6 620.4 L672.3 621.1 L671.1 621.9 L670.0 623.0 L669.0 624.1 L668.1 625.4 L667.5 626.7 L666.5 628.0 L665.5 629.4 L664.3 631.0Z" fill="url(#ag4_1)"/><path d="M650.7 626.8 L651.0 623.7 L651.7 620.7 L652.7 617.8 L654.1 615.0 L655.8 612.4 L657.8 610.1 L660.1 608.0 L662.6 606.2 L665.4 604.7 L668.3 603.5 L671.3 602.8 L674.3 602.4 L677.4 602.3 L680.5 602.7 L683.5 603.4 L686.4 604.5 L685.5 606.6 L682.4 607.0 L679.7 607.2 L677.2 607.5 L674.7 607.5 L672.2 607.9 L669.9 608.5 L667.6 609.4 L665.4 610.6 L663.4 612.0 L661.6 613.7 L660.0 615.5 L658.6 617.6 L657.5 619.8 L656.1 622.0 L654.7 624.3 L653.1 626.9Z" fill="url(#ag4_2)"/><path d="M640.4 622.6 L640.5 618.4 L641.1 614.3 L642.2 610.3 L643.8 606.5 L645.9 602.9 L648.5 599.6 L651.5 596.7 L654.8 594.1 L658.4 592.1 L662.2 590.5 L666.3 589.4 L670.4 588.9 L674.6 588.9 L678.7 589.4 L682.7 590.5 L686.6 592.0 L685.4 594.5 L681.4 594.5 L677.7 594.6 L674.2 594.9 L670.8 594.9 L667.4 595.3 L664.2 596.2 L661.0 597.5 L658.1 599.1 L655.4 601.2 L653.0 603.6 L650.9 606.2 L649.2 609.2 L647.9 612.3 L646.2 615.4 L644.8 618.7 L643.1 622.4Z" fill="url(#ag4_3)"/></g>
<use href="#txs" transform="translate(457.5,218.3) scale(0.985,1.035)"/>
<use href="#rx" transform="translate(619,106.3) scale(0.6,0.617)"/>
<use href="#rx" transform="translate(412,321) scale(0.615,0.62)"/>
<use href="#txs" transform="translate(609.2,314.6) scale(0.99,1)"/>
<use href="#rx" transform="translate(603,440) scale(0.615,0.615)"/>
<use href="#txs" transform="translate(427,538.4)"/>
<use href="#txs" transform="translate(682,636.6) scale(1,1.013)"/>
<use href="#rx" transform="translate(552,656) scale(0.625,0.625)"/>


<!-- dotted separators -->
<g stroke="#343434" stroke-width="2.300" stroke-linecap="round" stroke-dasharray="0.010 4.703" fill="none">
  <line x1="35.600" y1="302" x2="710" y2="302"/>
  <line x1="35.600" y1="525" x2="710" y2="525"/>
</g>
<!-- left column devices -->
<use href="#tx" transform="translate(98,121.3)"/>
<use href="#rx" transform="translate(233.7,105.5) scale(0.966,1.002)"/>

<use href="#tx" transform="translate(59.2,338.8) scale(0.985,0.995)"/>
<use href="#rx" transform="translate(193.2,320.1) scale(0.96,0.989)"/>
<use href="#rx" transform="translate(276.3,320.1) scale(0.95,0.989)"/>

<use href="#tx" transform="translate(65.3,559)"/>
<use href="#tx" transform="translate(128.7,559)"/>
<use href="#rx" transform="translate(263,540.4) scale(0.9625,0.989)"/>
</svg>

<div id="title" class="abs">Multiple Receivers Combined for Use</div>
<div id="uline" class="abs"></div>

<div class="abs plus" style="left:176.7px;top:157.4px;"></div>
<div class="abs plus" style="left:134.1px;top:370.7px;"></div>
<div class="abs plus" style="left:207.7px;top:591px;"></div>

<div class="abs cap" id="c1" style="left:0;width:394px;top:244px;">Suitable for small residential or<br>hotel style apartments</div>

<div class="abs cap" id="c2" style="left:0;width:394px;top:462px;">Suitable for two story or<br><span style="position:relative;left:3px;">large area residential buildings</span></div>

<div class="abs cap" id="c3" style="left:0.5px;width:394px;top:676.5px;line-height:26.6px;transform:scaleX(0.925);transform-origin:197px 0;">Suitable for two or more residences or<br><span style="position:relative;left:3px;">installed in a guardian's room</span></div>
</body>
</html>
